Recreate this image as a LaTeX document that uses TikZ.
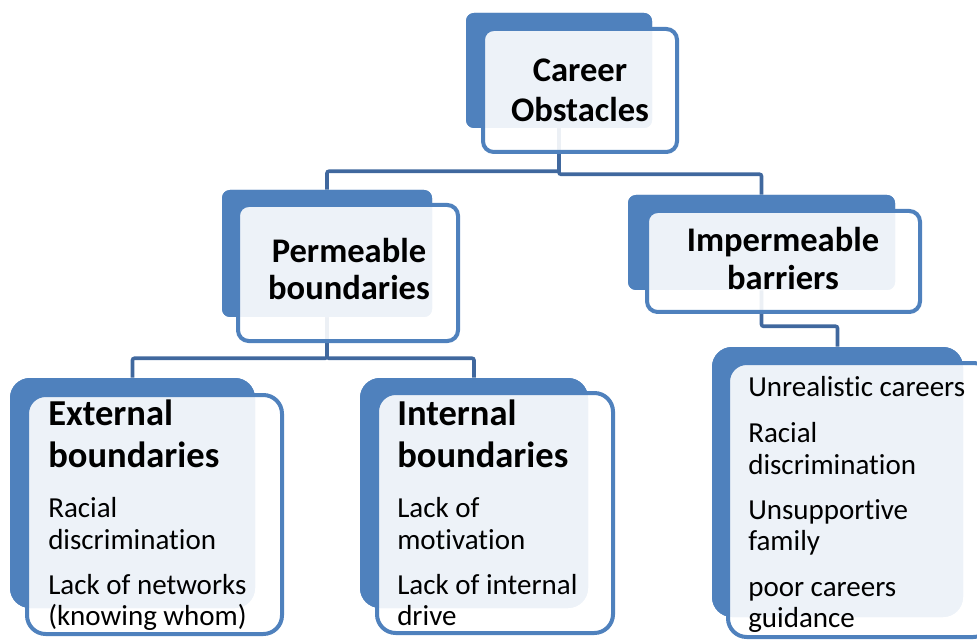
\documentclass[tikz,border=0pt]{standalone}
\usepackage{fontspec}
\setmainfont{Carlito}[Ligatures=NoCommon]
\definecolor{backblue}{RGB}{79,129,189}
\definecolor{linkblue}{RGB}{64,104,158}
\newcommand\rbox[6]{%
  \node[#2, minimum width={(#5-#3)*0.75pt}, minimum height={(#6-#4)*0.75pt}] (#1) at ({(#3+#5)/2},{(#4+#6)/2}) {};}
\begin{document}
\begin{tikzpicture}[x=0.75pt, y=-0.75pt,
  backbox/.style={fill=backblue, draw=none, inner sep=0pt, rounded corners=#1},
  frontbox/.style={draw=backblue, line width=3pt, fill=white, fill opacity=0.9, inner sep=0pt, rounded corners=#1},
  link/.style={draw=linkblue, line width=2.7pt, rounded corners=1.5pt},
  ttl/.style={font=\fontsize{25.9}{30}\selectfont\bfseries, inner sep=0pt, anchor=base},
  sub/.style={font=\fontsize{27.4}{31}\selectfont\bfseries, inner sep=0pt, anchor=base west},
  itm/.style={font=\fontsize{21.75}{24}\selectfont, inner sep=0pt, anchor=base west}]
\useasboundingbox (0,0) rectangle (977,641);
\clip (0,0) rectangle (977,641);

% back boxes (named first so connectors can refer to them)
\rbox{coB}{backbox=6pt}{466}{13}{652}{128}
\rbox{permB}{backbox=6pt}{222}{190}{432}{317}
\rbox{impB}{backbox=6pt}{628}{195}{895}{290}
\rbox{extB}{backbox=15pt}{10}{378}{255}{608}
\rbox{intB}{backbox=15pt}{360}{378}{588}{608}
\rbox{listB}{backbox=15pt}{712}{347}{963}{617}

% connectors
\draw[link] (coB.south) -- ++(0,43) -| (permB.north);
\draw[link] (coB.south) -- ++(0,46) -| (impB.north);
\draw[link] (permB.south) -- ++(0,41) -| (extB.north);
\draw[link] (permB.south) -- ++(0,41) -| (intB.north);
\draw[link] (impB.south) -- ++(0,36) -| (listB.north);

% redraw back boxes over connector ends
\rbox{coB2}{backbox=6pt}{466}{13}{652}{128}
\rbox{permB2}{backbox=6pt}{222}{190}{432}{317}
\rbox{impB2}{backbox=6pt}{628}{195}{895}{290}
\rbox{extB2}{backbox=15pt}{10}{378}{255}{608}
\rbox{intB2}{backbox=15pt}{360}{378}{588}{608}
\rbox{listB2}{backbox=15pt}{712}{347}{963}{617}

% front boxes
\rbox{coF}{frontbox=8pt}{483}{29}{677}{152}
\rbox{permF}{frontbox=8pt}{238}{205}{458}{341}
\rbox{impF}{frontbox=8pt}{647}{211}{920}{312}
\rbox{extF}{frontbox=14pt}{27}{395}{282}{634}
\rbox{intF}{frontbox=14pt}{377}{393}{613}{633}
\rbox{listF}{frontbox=14pt}{728}{363}{992}{637}

% texts
\node[ttl] (co1) at (580,82) {Career};
\node[ttl] (co2) at (580,122) {Obstacles};
\node[ttl] (pe1) at (349,263) {Permeable};
\node[ttl] (pe2) at (349,300) {boundaries};
\node[ttl] (im1) at (783,252) {Impermeable};
\node[ttl] (im2) at (783,290) {barriers};

\node[sub] (ex1) at (48,425) {External};
\node[sub] (ex2) at (48,467) {boundaries};
\node[itm] (ex3) at (48,517) {Racial};
\node[itm] (ex4) at (48,549) {discrimination};
\node[itm] (ex5) at (48,594) {Lack of networks};
\node[itm] (ex6) at (48,625) {(knowing whom)};

\node[sub] (in1) at (397,425) {Internal};
\node[sub] (in2) at (397,467) {boundaries};
\node[itm] (in3) at (397,517) {Lack of};
\node[itm] (in4) at (397,549) {motivation};
\node[itm] (in5) at (397,594) {Lack of internal};
\node[itm] (in6) at (397,625) {drive};

\node[itm] (li1) at (748,396) {Unrealistic careers};
\node[itm] (li2) at (748,442) {Racial};
\node[itm] (li3) at (748,474) {discrimination};
\node[itm] (li4) at (748,519) {Unsupportive};
\node[itm] (li5) at (748,550) {family};
\node[itm] (li6) at (748,596) {poor careers};
\node[itm] (li7) at (748,627) {guidance};
\end{tikzpicture}
\end{document}
